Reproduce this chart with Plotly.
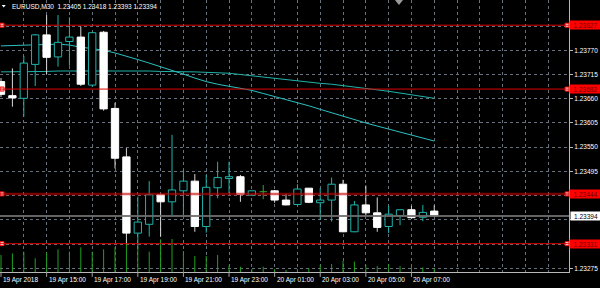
import plotly.graph_objects as go

# ---------------- data ----------------
time_labels = ["19 Apr 2018", "19 Apr 15:00", "19 Apr 17:00", "19 Apr 19:00", "19 Apr 21:00",
               "19 Apr 23:00", "20 Apr 01:00", "20 Apr 03:00", "20 Apr 05:00", "20 Apr 07:00"]
label_bars = [0, 4, 8, 12, 16, 20, 24, 28, 32, 36]

opens = [1.23699, 1.23667, 1.23661, 1.23738, 1.23805, 1.23755, 1.23790, 1.23800, 1.23691, 1.23811,
         1.23638, 1.23528, 1.23355, 1.23375, 1.23442, 1.23426, 1.23451, 1.23473, 1.23370, 1.23458,
         1.23479, 1.23483, 1.23441, 1.23449, 1.23451, 1.23430, 1.23420, 1.23457, 1.23424, 1.23430,
         1.23466, 1.23358, 1.23419, 1.23401, 1.23370, 1.23395, 1.23408, 1.23391, 1.23405]
highs = [1.23707, 1.23729, 1.23757, 1.23807, 1.23850, 1.23850, 1.23845, 1.23824, 1.23811, 1.23814,
         1.23651, 1.23548, 1.23438, 1.23473, 1.23445, 1.23578, 1.23498, 1.23489, 1.23487, 1.23517,
         1.23517, 1.23487, 1.23453, 1.23464, 1.23453, 1.23444, 1.23466, 1.23457, 1.23457, 1.23481,
         1.23476, 1.23428, 1.23463, 1.23436, 1.23417, 1.23409, 1.23417, 1.23419, 1.23418]
lows = [1.23664, 1.23642, 1.23619, 1.23689, 1.23716, 1.23733, 1.23735, 1.23689, 1.23687, 1.23633,
        1.23502, 1.23328, 1.23319, 1.23347, 1.23347, 1.23396, 1.23396, 1.23358, 1.23356, 1.23434,
        1.23445, 1.23426, 1.23439, 1.23432, 1.23424, 1.23418, 1.23419, 1.23423, 1.23385, 1.23381,
        1.23357, 1.23357, 1.23395, 1.23358, 1.23355, 1.23373, 1.23388, 1.23382, 1.23393]
closes = [1.23670, 1.23662, 1.23741, 1.23805, 1.23754, 1.23788, 1.23800, 1.23693, 1.23810, 1.23637,
          1.23525, 1.23355, 1.23380, 1.23442, 1.23426, 1.23453, 1.23473, 1.23370, 1.23459, 1.23481,
          1.23483, 1.23443, 1.23451, 1.23449, 1.23430, 1.23419, 1.23455, 1.23425, 1.23430, 1.23466,
          1.23358, 1.23419, 1.23401, 1.23368, 1.23398, 1.23408, 1.23390, 1.23402, 1.23394]
volumes = [1020, 1120, 1220, 820, 1160, 1360, 1220, 1480, 1220, 1360,
           1480, 1680, 1480, 1220, 1960, 1980, 1260, 960, 960, 1020,
           380, 320, 180, 320, 180, 120, 180, 220, 420, 480,
           660, 620, 420, 360, 460, 360, 420, 280, 220]
ma_fast = [1.23780, 1.23781, 1.23782, 1.23783, 1.23784, 1.23784, 1.23782, 1.23777, 1.23774, 1.23770,
           1.23764, 1.23757, 1.23749, 1.23741, 1.23733, 1.23725, 1.23716, 1.23707, 1.23699, 1.23693,
           1.23688, 1.23683, 1.23679, 1.23672, 1.23665, 1.23658, 1.23652, 1.23644, 1.23636, 1.23628,
           1.23620, 1.23612, 1.23605, 1.23598, 1.23591, 1.23585, 1.23578, 1.23571, 1.23564]
ma_slow = [1.23721, 1.23721, 1.23721, 1.23722, 1.23722, 1.23723, 1.23723, 1.23724, 1.23724, 1.23724,
           1.23724, 1.23723, 1.23723, 1.23723, 1.23722, 1.23722, 1.23721, 1.23721, 1.23720, 1.23719,
           1.23718, 1.23715, 1.23712, 1.23709, 1.23706, 1.23704, 1.23701, 1.23698, 1.23695, 1.23693,
           1.23690, 1.23687, 1.23684, 1.23681, 1.23677, 1.23673, 1.23669, 1.23665, 1.23661]
hlines = [1.23827, 1.23682, 1.23444, 1.23331]
bid = 1.23394
price_ticks = [1.23275, 1.23330, 1.23385, 1.23440, 1.23495, 1.23550, 1.23605, 1.23660,
               1.23715, 1.23770, 1.23825]
hidden_ticks = [1.23385]  # covered by the bid price label
header = "EURUSD,M30\u00a0\u00a01.23405 1.23418 1.23393 1.23394"

# ---------------- styling ----------------
TEAL = "#20b2aa"
FONT = "Liberation Sans, Arial, sans-serif"
n = len(opens)
xs = list(range(n))
hw = 0.32

fig = go.Figure()

# volumes (overlay axis)
vx, vy = [], []
for i, v in zip(xs, volumes):
    vx += [i, i, None]
    vy += [0, v, None]
fig.add_trace(go.Scatter(x=vx, y=vy, yaxis="y2", mode="lines",
                         line=dict(color="#22a022", width=1), hoverinfo="skip", showlegend=False))

# moving averages
fig.add_trace(go.Scatter(x=xs, y=ma_slow, mode="lines", line=dict(color=TEAL, width=1),
                         showlegend=False, hoverinfo="skip"))
fig.add_trace(go.Scatter(x=xs, y=ma_fast, mode="lines", line=dict(color="#2cc0c0", width=1),
                         showlegend=False, hoverinfo="skip"))

# candles
bull_w_x, bull_w_y, bear_w_x, bear_w_y = [], [], [], []
bull_b_x, bull_b_y, bear_b_x, bear_b_y = [], [], [], []
doji_x, doji_y = [], []
for i in xs:
    o, h, l, c = opens[i], highs[i], lows[i], closes[i]
    if c > o:
        bull_w_x += [i, i, None]; bull_w_y += [l, h, None]
        bull_b_x += [i - hw, i + hw, i + hw, i - hw, i - hw, None]
        bull_b_y += [o, o, c, c, o, None]
    elif c < o:
        bear_w_x += [i, i, None]; bear_w_y += [l, h, None]
        bear_b_x += [i - hw, i + hw, i + hw, i - hw, i - hw, None]
        bear_b_y += [o, o, c, c, o, None]
    else:
        doji_x += [i, i, None, i - hw, i + hw, None]
        doji_y += [l, h, None, o, o, None]

fig.add_trace(go.Scatter(x=bull_w_x, y=bull_w_y, mode="lines", line=dict(color=TEAL, width=1),
                         showlegend=False, hoverinfo="skip"))
fig.add_trace(go.Scatter(x=bear_w_x, y=bear_w_y, mode="lines", line=dict(color="#d8d8d8", width=1),
                         showlegend=False, hoverinfo="skip"))
fig.add_trace(go.Scatter(x=bull_b_x, y=bull_b_y, mode="lines", fill="toself", fillcolor="#000000",
                         line=dict(color=TEAL, width=1), showlegend=False, hoverinfo="skip"))
fig.add_trace(go.Scatter(x=bear_b_x, y=bear_b_y, mode="lines", fill="toself", fillcolor="#ffffff",
                         line=dict(color="#ffffff", width=1), showlegend=False, hoverinfo="skip"))
fig.add_trace(go.Scatter(x=doji_x, y=doji_y, mode="lines", line=dict(color="#2ea82e", width=1),
                         showlegend=False, hoverinfo="skip"))

# horizontal lines
shapes = []
line_styles = {1.23827: ("#e00000", 1), 1.23682: ("#e00000", 1),
               1.23444: ("rgba(200,0,0,0.62)", 2.5), 1.23331: ("#e00000", 1)}
for p in hlines:
    col, w = line_styles[p]
    shapes.append(dict(type="line", xref="paper", x0=0, x1=1, yref="y", y0=p, y1=p,
                       line=dict(color=col, width=w), layer="above"))
shapes.append(dict(type="line", xref="paper", x0=0, x1=1, yref="y", y0=bid, y1=bid,
                   line=dict(color="rgba(110,110,110,0.9)", width=2), layer="above"))
# time axis tick marks
for b in label_bars:
    shapes.append(dict(type="line", xref="x", x0=b, x1=b, yref="paper", y0=0, y1=-0.018,
                       line=dict(color="#a0a0a0", width=1)))
# header triangle and chart shift marker
shapes.append(dict(type="path", xref="paper", yref="paper",
                   path="M 0.0030 0.9816 L 0.0100 0.9816 L 0.0065 0.9724 Z",
                   fillcolor="#ffffff", line=dict(width=0)))
shapes.append(dict(type="path", xref="paper", yref="paper",
                   path="M 0.6942 1.0 L 0.7083 1.0 L 0.7012 0.9816 Z",
                   fillcolor="#9a9a9a", line=dict(width=0)))

# anchor squares for the selected lines
ax_, ay_ = [], []
for p in hlines:
    ax_ += [0.09, 49.65]
    ay_ += [p, p]
fig.add_trace(go.Scatter(x=ax_, y=ay_, mode="markers", cliponaxis=False,
                         marker=dict(symbol="square", size=4, color="#ffe8e8",
                                     line=dict(color="#ff0000", width=1)),
                         showlegend=False, hoverinfo="skip"))

annotations = []
for b, t in zip(label_bars, time_labels):
    annotations.append(dict(x=b, xref="x", y=0, yref="paper", xanchor="left", yanchor="top",
                            yshift=-2, text=t, showarrow=False,
                            font=dict(family=FONT, size=6.5, color="#ffffff")))
for p in hlines:
    annotations.append(dict(x=1, xref="paper", y=p, yref="y", xanchor="left", yanchor="middle",
                            text=f"{p:.5f}", showarrow=False, bgcolor="#ff0000", borderpad=0,
                            width=31, height=8, align="center",
                            font=dict(family=FONT, size=6.5, color="#700000")))
annotations.append(dict(x=1, xref="paper", y=bid, yref="y", xanchor="left", yanchor="middle",
                        xshift=1, text=f"{bid:.5f}", showarrow=False, bgcolor="#ffffff", borderpad=0,
                        width=30, height=8, align="center",
                        font=dict(family=FONT, size=6.5, color="#000000")))
annotations.append(dict(x=0, xref="paper", y=1, yref="paper", xanchor="left", yanchor="top",
                        xshift=10, yshift=-1, text=header, showarrow=False,
                        font=dict(family=FONT, size=6.5, color="#ffffff")))

GRID = "#66717d"
fig.update_layout(
    width=600, height=288,
    margin=dict(l=0, r=31, t=0, b=16),
    paper_bgcolor="#000000", plot_bgcolor="#000000",
    showlegend=False,
    shapes=shapes, annotations=annotations,
    xaxis=dict(range=[-0.088, 49.82], tickvals=list(range(0, 50, 2)), showticklabels=False,
               ticks="", showgrid=True, gridcolor=GRID, griddash="3px,3px", gridwidth=1,
               zeroline=False, showline=True, mirror=True, linecolor="#b8b8b8", linewidth=1),
    yaxis=dict(range=[1.232667, 1.238842], side="right", tickvals=price_ticks,
               ticktext=["" if p in hidden_ticks else f"{p:.5f}" for p in price_ticks],
               ticks="outside", ticklen=3,
               tickcolor="#b8b8b8", tickfont=dict(family=FONT, size=6.5, color="#ffffff"),
               showgrid=True, gridcolor=GRID, griddash="3px,3px", gridwidth=1, zeroline=False,
               showline=True, mirror=True, linecolor="#b8b8b8", linewidth=1),
    yaxis2=dict(range=[0, 16320], overlaying="y", visible=False, showgrid=False),
)

fig.write_html("out.html")
